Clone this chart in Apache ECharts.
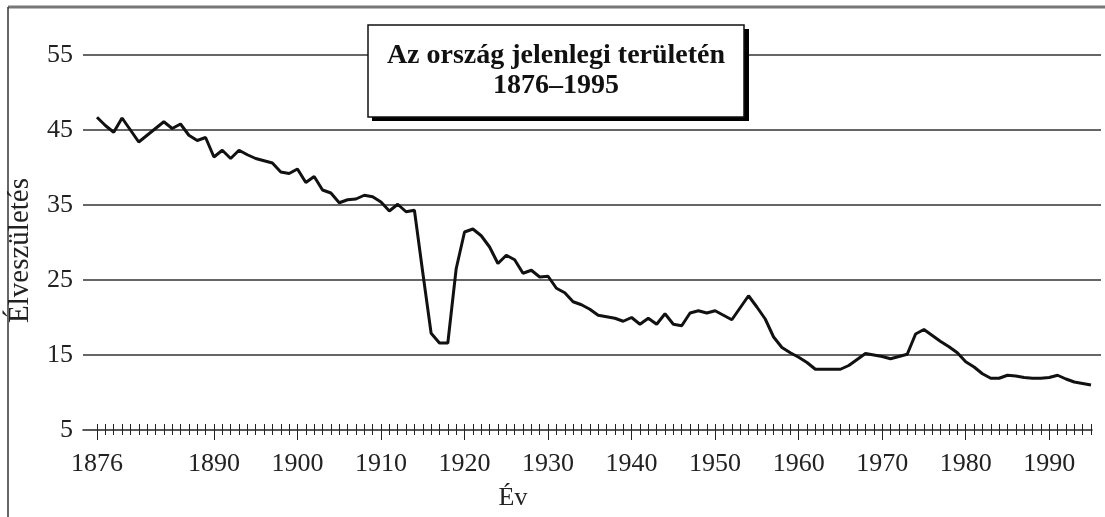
<!DOCTYPE html>
<html>
<head>
<meta charset="utf-8">
<script src="https://cdn.jsdelivr.net/npm/echarts@6/dist/echarts.min.js"></script>
<style>
  html, body { margin: 0; padding: 0; background: #fff; }
  #chart { width: 1105px; height: 517px; }
</style>
</head>
<body>
<div id="chart"></div>
<script>
// years 1876..1995
const years = [];
for (let y = 1876; y <= 1995; y++) years.push(String(y));

// live births per 1000
const births = [
  46.7, 45.6, 44.7, 46.6, 45.0, 43.4, 44.3, 45.2, 46.1, 45.2,   // 1876-1885
  45.8, 44.3, 43.6, 44.0, 41.4, 42.3, 41.2, 42.3, 41.7, 41.2,   // 1886-1895
  40.9, 40.6, 39.4, 39.2, 39.8, 38.0, 38.8, 37.0, 36.6, 35.3,   // 1896-1905
  35.7, 35.8, 36.3, 36.1, 35.4, 34.2, 35.1, 34.1, 34.3, 26.0,   // 1906-1915
  17.9, 16.6, 16.6, 26.5, 31.4, 31.8, 30.9, 29.4, 27.2, 28.3,   // 1916-1925
  27.7, 25.9, 26.3, 25.4, 25.5, 23.9, 23.3, 22.1, 21.7, 21.1,   // 1926-1935
  20.3, 20.1, 19.9, 19.5, 20.0, 19.1, 19.9, 19.1, 20.5, 19.1,   // 1936-1945
  18.9, 20.6, 20.9, 20.6, 20.9, 20.3, 19.7, 21.3, 22.9, 21.4,   // 1946-1955
  19.8, 17.4, 16.0, 15.3, 14.7, 14.0, 13.1, 13.1, 13.1, 13.1,   // 1956-1965
  13.6, 14.4, 15.2, 15.0, 14.8, 14.5, 14.8, 15.1, 17.8, 18.4,   // 1966-1975
  17.6, 16.8, 16.1, 15.3, 14.1, 13.4, 12.5, 11.9, 11.9, 12.3,   // 1976-1985
  12.2, 12.0, 11.9, 11.9, 12.0, 12.3, 11.8, 11.4, 11.2, 11.0    // 1986-1995
];

const labelYears = ['1876', '1890', '1900', '1910', '1920', '1930', '1940', '1950', '1960', '1970', '1980', '1990'];

const titleText = 'Az ország jelenlegi területén\n1876–1995';
const yName = 'Élveszületés';
const xName = 'Év';

const serif = '"Liberation Serif", "DejaVu Serif", serif';
const isMajor = (idx, val) => labelYears.indexOf(val) !== -1;

const chart = echarts.init(document.getElementById('chart'));

// three stacked category axes: ticks above the line, short ticks below, long ticks + labels
const catAxis = (extra) => Object.assign({
  type: 'category',
  gridIndex: 2,
  position: 'bottom',
  data: years,
  boundaryGap: false,
  axisLine: { show: false },
  axisLabel: { show: false },
  splitLine: { show: false }
}, extra);

chart.setOption({
  animation: false,
  backgroundColor: '#fff',
  title: {
    text: titleText,
    left: 545,
    top: 25,
    textAlign: 'center',
    padding: [16, 11, 16, 11],
    backgroundColor: '#fff',
    borderColor: '#111',
    borderWidth: 1.5,
    textStyle: {
      fontFamily: serif,
      fontWeight: 'bold',
      fontSize: 28,
      lineHeight: 30,
      color: '#111',
      width: 355,
      align: 'center'
    },
    z: 10
  },
  graphic: [
    { type: 'line', shape: { x1: 8, y1: 7, x2: 1105, y2: 7 }, style: { stroke: '#777', lineWidth: 3 } },
    { type: 'line', shape: { x1: 8, y1: 7, x2: 8, y2: 517 }, style: { stroke: '#333', lineWidth: 1.5 } },
    // drop shadow of the title box
    { type: 'rect', z: 8, shape: { x: 372, y: 29, width: 377, height: 92 }, style: { fill: '#000' } }
  ],
  grid: [
    { left: 83, right: 4, top: 55, bottom: 87, outerBoundsMode: 'none' },
    { left: 83, right: 13, top: 55, bottom: 87, outerBoundsMode: 'none' },
    { left: 97, right: 14, top: 55, bottom: 87, outerBoundsMode: 'none' }
  ],
  yAxis: [
    {
      type: 'value', gridIndex: 0, min: 5, max: 55, interval: 10,
      name: yName, nameLocation: 'middle', nameGap: 48,
      nameTextStyle: { fontFamily: serif, fontSize: 29, color: '#222', padding: [0, 16, 0, 0] },
      axisLine: { show: false }, axisTick: { show: false },
      axisLabel: { fontFamily: serif, fontSize: 26, color: '#222', margin: 10 },
      splitLine: { show: true, showMinLine: false, lineStyle: { color: '#333', width: 1.5 } }
    },
    { type: 'value', gridIndex: 1, min: 5, max: 55, show: false },
    { type: 'value', gridIndex: 2, min: 5, max: 55, show: false }
  ],
  xAxis: [
    { type: 'value', gridIndex: 0, show: false },
    {
      type: 'value', gridIndex: 1, min: 0, max: 1, position: 'bottom',
      axisLine: { show: true, lineStyle: { color: '#222', width: 1.5 } },
      axisTick: { show: false }, axisLabel: { show: false }, splitLine: { show: false }
    },
    catAxis({ axisTick: { show: true, inside: true, length: 6, interval: 0, lineStyle: { color: '#222', width: 1 } } }),
    catAxis({ axisTick: { show: true, inside: false, length: 5, interval: 0, lineStyle: { color: '#222', width: 1 } } }),
    catAxis({
      name: xName, nameLocation: 'middle', nameGap: 55,
      nameTextStyle: { fontFamily: serif, fontSize: 26, color: '#222', padding: [0, 162, 0, 0] },
      axisTick: { show: true, inside: false, length: 10, interval: isMajor, lineStyle: { color: '#222', width: 1 } },
      axisLabel: { show: true, interval: isMajor, fontFamily: serif, fontSize: 26, color: '#222', margin: 21 }
    })
  ],
  series: [
    {
      type: 'line',
      xAxisIndex: 2,
      yAxisIndex: 2,
      data: births,
      symbol: 'none',
      lineStyle: { color: '#111', width: 3 },
      z: 5
    }
  ]
});
</script>
</body>
</html>
